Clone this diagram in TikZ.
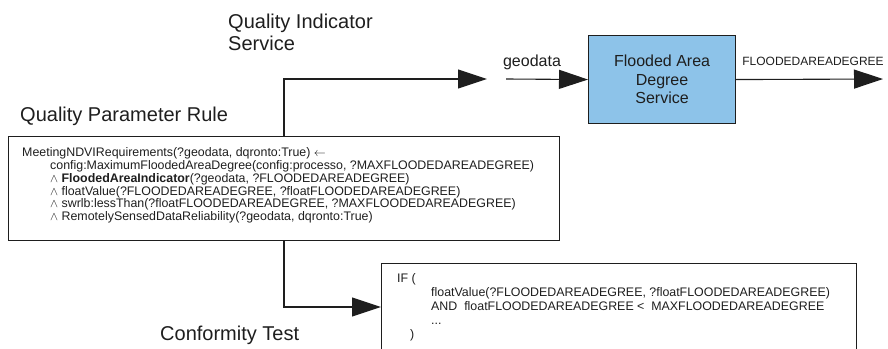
\documentclass[tikz,border=0pt]{standalone}
\usepackage{fontspec}
\setmainfont{Liberation Sans}
\usetikzlibrary{arrows.meta}
\definecolor{boxblue}{RGB}{141,195,233}
\definecolor{ink}{RGB}{30,30,30}
\begin{document}
\begin{tikzpicture}[x=1pt,y=-1pt,
  bigtxt/.style={font=\fontsize{20}{22}\selectfont, inner sep=0pt, text=ink},
  medtxt/.style={font=\fontsize{16}{18.5}\selectfont, inner sep=0pt, text=ink},
  smalltxt/.style={font=\fontsize{12.4}{14}\selectfont, inner sep=0pt, text=ink,
                   text height=8.8pt, text depth=2.6pt},
  frame/.style={draw=ink, line width=1.1pt, inner sep=0pt},
  conn/.style={draw=ink, line width=1.1pt},
  flow/.style={conn, -{Triangle[length=29pt,width=19pt]}}]
\useasboundingbox (0,0) rectangle (888,348);
\clip (0,0) rectangle (888,348);

% headings
\node[bigtxt, anchor=base west] (qis1) at (228,28) {Quality Indicator};
\node[bigtxt, anchor=base west] (qis2) at (228,50) {Service};
\node[bigtxt, anchor=base west] (qprl) at (20,121) {Quality Parameter Rule};
\node[bigtxt, anchor=base west] (ctl) at (160,340) {Conformity Test};

% service box
\node[frame, fill=boxblue, minimum width=147pt, minimum height=88pt, anchor=north west,
      medtxt, align=center] (fads) at (588,35) {Flooded Area\\Degree\\Service};

% rule box
\node[frame, minimum width=551pt, minimum height=104pt, anchor=north west] (qpr) at (8,136) {};
\node[smalltxt, anchor=base west] (r1) at (22,156.5) {MeetingNDVIRequirements(?geodata, dqronto:True) $\leftarrow$};
\node[smalltxt, anchor=base west] (r2) at (50,169.3) {config:MaximumFloodedAreaDegree(config:processo, ?MAXFLOODEDAREADEGREE)};
\node[smalltxt, anchor=base west] (r3) at (50,182.6) {$\wedge$ \textbf{FloodedAreaIndicator}(?geodata, ?FLOODEDAREADEGREE)};
\node[smalltxt, anchor=base west] (r4) at (50,195.1) {$\wedge$ floatValue(?FLOODEDAREADEGREE, ?floatFLOODEDAREADEGREE)};
\node[smalltxt, anchor=base west] (r5) at (50,207.6) {$\wedge$ swrlb:lessThan(?floatFLOODEDAREADEGREE, ?MAXFLOODEDAREADEGREE)};
\node[smalltxt, anchor=base west] (r6) at (50,220.1) {$\wedge$ RemotelySensedDataReliability(?geodata, dqronto:True)};

% conformity test box
\node[frame, minimum width=475pt, minimum height=120pt, anchor=north west] (ct) at (381,263) {};
\node[smalltxt, anchor=base west] (c1) at (397,282) {IF (};
\node[smalltxt, anchor=base west] (c2) at (431,296.2) {floatValue(?FLOODEDAREADEGREE, ?floatFLOODEDAREADEGREE)};
\node[smalltxt, anchor=base west] (c3) at (431,310.4) {AND\ \ floatFLOODEDAREADEGREE <\ \ MAXFLOODEDAREADEGREE};
\node[smalltxt, anchor=base west] (c4) at (431,324.6) {...};
\node[smalltxt, anchor=base west] (c5) at (410,338.8) {)};

% arrow labels
\node[medtxt] (geol) at (532,62) {geodata};
\node[smalltxt, font=\fontsize{12}{14}\selectfont] (outl) at (813,62) {FLOODEDAREADEGREE};

% connectors
\coordinate (qisin) at (487,79);
\coordinate (geoin) at (506,79);
\coordinate (fout) at (883,79);
\coordinate (ctin) at ([yshift=-44pt]ct.north west);
\draw[flow] ([xshift=276pt]qpr.north west) |- (qisin);
\draw[flow] (geoin) -- (fads.west);
\draw[flow] (fads.east) -- (fout);
\draw[flow] ([xshift=276pt]qpr.south west) |- (ctin);
\end{tikzpicture}
\end{document}
